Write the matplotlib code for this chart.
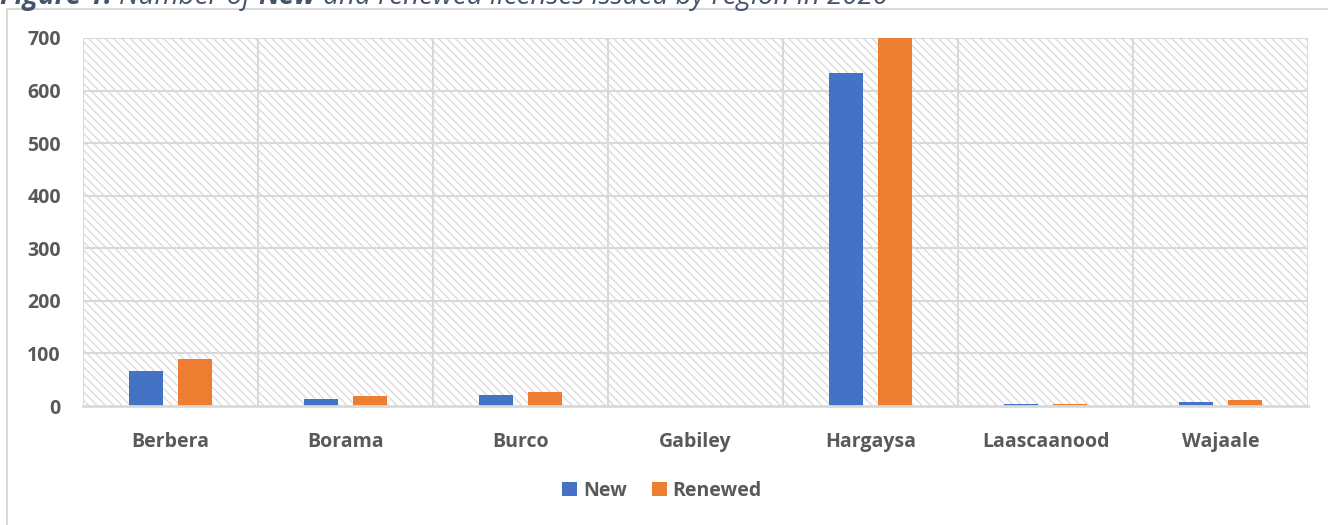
import matplotlib.pyplot as plt
import numpy as np
from matplotlib.patches import Rectangle

plt.rcParams['font.family'] = ['Open Sans', 'DejaVu Sans']
plt.rcParams['hatch.linewidth'] = 0.9
plt.rcParams['hatch.color'] = '#d9d9d9'

regions = ['Berbera', 'Borama', 'Burco', 'Gabiley', 'Hargaysa', 'Laascaanood', 'Wajaale']
new_lic = [67, 13, 20, 0, 633, 3, 8]
renewed_lic = [89, 19, 27, 0, 745, 4, 11]
yticks = [0, 100, 200, 300, 400, 500, 600, 700]

blue = '#4472C4'
orange = '#ED7D31'
grid_c = '#d9d9d9'
txt_c = '#595959'

fig = plt.figure(figsize=(13.28, 5.25), dpi=100)
ax = fig.add_axes([83 / 1328, 119 / 525, 1225 / 1328, 368 / 525])

# outer chart frame (partly cut off like the source)
fig.patches.append(Rectangle((7 / 1328, -0.2), 1.2, 0.2 + 516 / 525, transform=fig.transFigure,
                             fill=False, edgecolor=grid_c, linewidth=1.5))

# title, only its lower part is visible in the source
ty = 0.993
fs = 20
t1 = fig.text(0.0, ty, 'Figure 1: ', fontsize=fs, fontweight='bold', style='italic',
              color='#44546A', va='baseline')
t2 = fig.text(0.0, ty, 'Number of ', fontsize=fs, style='italic', color='#44546A', va='baseline')
fig.canvas.draw()
r = fig.canvas.get_renderer()
x = t1.get_window_extent(r).x1 / fig.bbox.width
t2.set_x(x)
x = t2.get_window_extent(r).x1 / fig.bbox.width
t3 = fig.text(x, ty, 'New', fontsize=fs, fontweight='bold', style='italic', color='#44546A', va='baseline')
x = t3.get_window_extent(r).x1 / fig.bbox.width
fig.text(x, ty, ' and renewed licenses issued by region in 2020', fontsize=fs, style='italic',
         color='#44546A', va='baseline')

# hatched plot background
ax.add_patch(Rectangle((0, 0), 1, 1, transform=ax.transAxes, facecolor='white',
                       hatch='\\\\\\\\', edgecolor=grid_c, linewidth=0, zorder=0))

xpos = np.arange(len(regions))
w = 0.195
off = 0.14
ax.bar(xpos - off, new_lic, w, color=blue, label='New', zorder=3)
ax.bar(xpos + off, renewed_lic, w, color=orange, label='Renewed', zorder=3)

ax.set_xlim(-0.5, len(regions) - 0.5)
ax.set_ylim(0, 700)
ax.set_yticks(yticks)
ax.set_xticks(xpos)
ax.set_xticklabels(regions)
for v in yticks[1:]:
    ax.axhline(v, color=grid_c, linewidth=1.5, zorder=1)
for v in np.arange(-0.5, len(regions), 1.0):
    ax.axvline(v, color=grid_c, linewidth=1.5, zorder=1)

for s in ['top', 'left', 'right']:
    ax.spines[s].set_visible(False)
ax.spines['bottom'].set_color(grid_c)
ax.spines['bottom'].set_linewidth(2)
ax.spines['bottom'].set_zorder(4)
ax.tick_params(length=0, labelcolor=txt_c, labelsize=14)
ax.tick_params(axis='x', pad=19)
ax.tick_params(axis='y', pad=16)
for lab in ax.get_xticklabels() + ax.get_yticklabels():
    lab.set_fontweight('bold')

leg = fig.legend(loc='center', bbox_to_anchor=(662 / 1328, 1 - 491 / 525), ncol=2, frameon=False,
                 handlelength=0.75, handleheight=0.75, handletextpad=0.3, columnspacing=1.3,
                 prop={'size': 14, 'weight': 'bold'})
for t in leg.get_texts():
    t.set_color(txt_c)

fig.savefig('out.png', dpi=100)
